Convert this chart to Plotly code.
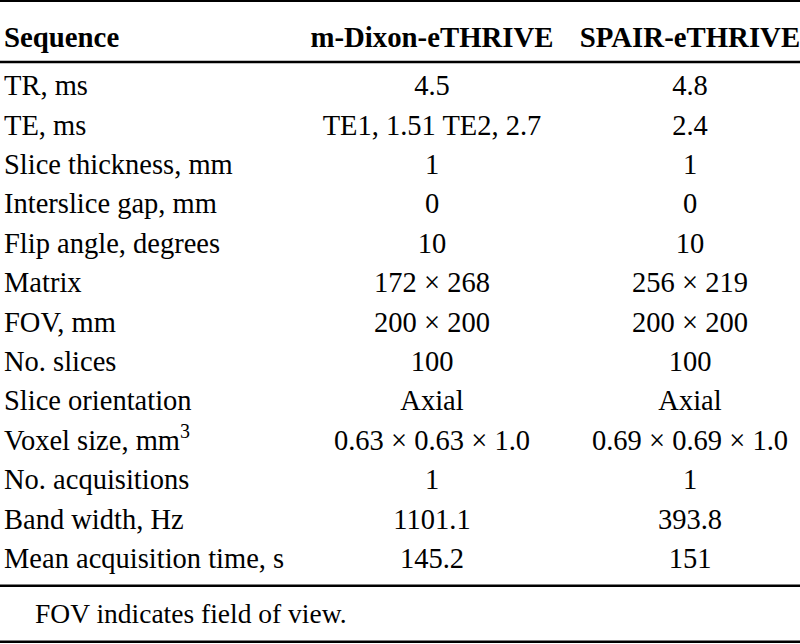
import plotly.graph_objects as go

# ---- data ----
headers = ["Sequence", "m-Dixon-eTHRIVE", "SPAIR-eTHRIVE"]
parameters = [
    "TR, ms", "TE, ms", "Slice thickness, mm", "Interslice gap, mm",
    "Flip angle, degrees", "Matrix", "FOV, mm", "No. slices",
    "Slice orientation", "Voxel size, mm<sup>3</sup>", "No. acquisitions",
    "Band width, Hz", "Mean acquisition time, s",
]
mdixon = [
    "4.5", "TE1, 1.51 TE2, 2.7", "1", "0", "10", "172 × 268", "200 × 200",
    "100", "Axial", "0.63 × 0.63 × 1.0", "1", "1101.1", "145.2",
]
spair = [
    "4.8", "2.4", "1", "0", "10", "256 × 219", "200 × 200",
    "100", "Axial", "0.69 × 0.69 × 1.0", "1", "393.8", "151",
]
footnote = "FOV indicates field of view."

# ---- layout constants ----
FONT = "Liberation Serif, Times New Roman, serif"
FS = 28.5
FS_HEAD = 28.8
COL_X = [4, 432, 690]          # column anchor positions (x axis units = px)
ROW0 = 1                        # first body row index
TEXT_DY = 0.05                  # small vertical nudge of row text
HEADER_ROW = -0.17
FOOT_ROW = 14.44
LINES = [-1.16, 0.39, 13.68, 15.1]
rows = [ROW0 + i + TEXT_DY for i in range(len(parameters))]

fig = go.Figure()

# body columns
fig.add_trace(go.Scatter(x=[COL_X[0]] * len(parameters), y=rows, text=parameters,
                         mode="text", textposition="middle right",
                         textfont=dict(family=FONT, size=FS, color="black"),
                         hoverinfo="skip", showlegend=False))
fig.add_trace(go.Scatter(x=[COL_X[1]] * len(mdixon), y=rows, text=mdixon,
                         mode="text", textposition="middle center",
                         textfont=dict(family=FONT, size=FS, color="black"),
                         hoverinfo="skip", showlegend=False))
fig.add_trace(go.Scatter(x=[COL_X[2]] * len(spair), y=rows, text=spair,
                         mode="text", textposition="middle center",
                         textfont=dict(family=FONT, size=FS, color="black"),
                         hoverinfo="skip", showlegend=False))

# header
fig.add_trace(go.Scatter(x=[COL_X[0]], y=[HEADER_ROW], text=["<b>" + headers[0] + "</b>"],
                         mode="text", textposition="middle right",
                         textfont=dict(family=FONT, size=FS_HEAD, color="black"),
                         hoverinfo="skip", showlegend=False))
fig.add_trace(go.Scatter(x=COL_X[1:], y=[HEADER_ROW] * 2,
                         text=["<b>" + h + "</b>" for h in headers[1:]],
                         mode="text", textposition="middle center",
                         textfont=dict(family=FONT, size=FS_HEAD, color="black"),
                         hoverinfo="skip", showlegend=False))

# footnote
fig.add_trace(go.Scatter(x=[35], y=[FOOT_ROW], text=[footnote],
                         mode="text", textposition="middle right",
                         textfont=dict(family=FONT, size=27.5, color="black"),
                         hoverinfo="skip", showlegend=False))

for yv in LINES:
    fig.add_shape(type="line", xref="paper", x0=0, x1=1, yref="y", y0=yv, y1=yv,
                  line=dict(color="black", width=2.5))

fig.update_layout(
    width=800, height=644,
    margin=dict(l=0, r=0, t=0, b=0),
    paper_bgcolor="white", plot_bgcolor="white",
    xaxis=dict(range=[0, 800], visible=False, fixedrange=True),
    yaxis=dict(range=[15.155, -1.182], visible=False, fixedrange=True),
)

fig.write_html("out.html", config={"displayModeBar": False},
               post_script="document.body.style.margin='0';document.body.style.overflow='hidden';")
